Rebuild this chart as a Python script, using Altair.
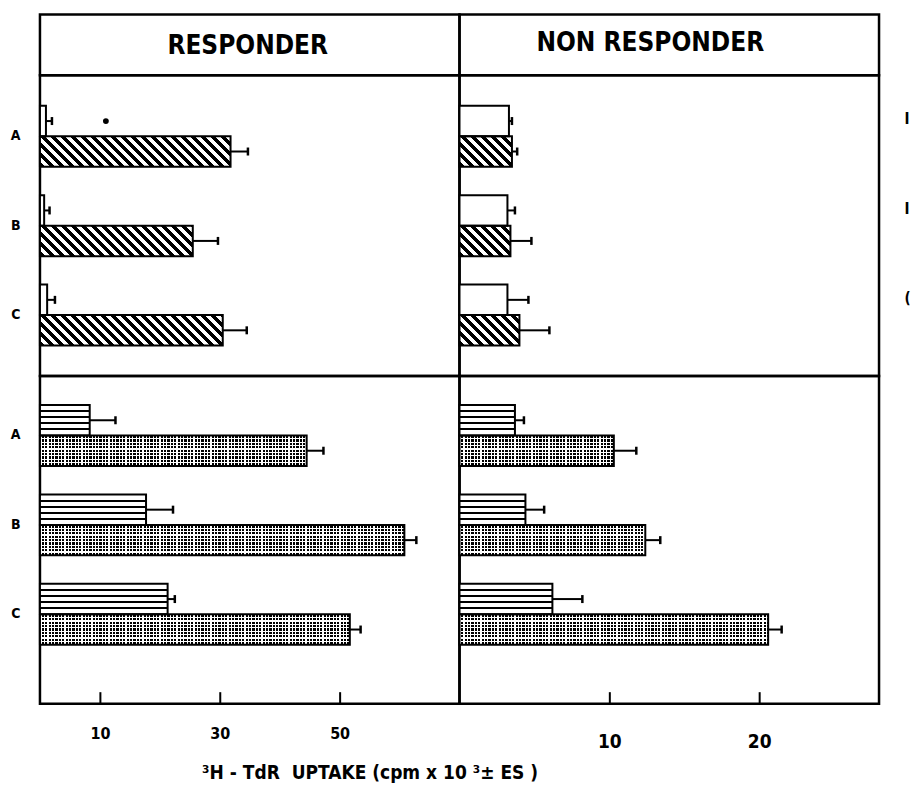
import math
import altair as alt
import pandas as pd

# ---------------- data ----------------
rows = ["A", "B", "C"]
subs = ["upper", "lower"]

# Responder, upper panel: open bars (upper) and hatched bars (lower)
resp_open = [1.0, 0.7, 1.2]
resp_open_err = [1.0, 0.9, 1.3]
resp_hatch = [31.8, 25.5, 30.5]
resp_hatch_err = [2.9, 4.2, 4.0]
# Non responder, upper panel
non_open = [3.3, 3.2, 3.2]
non_open_err = [0.2, 0.5, 1.4]
non_hatch = [3.5, 3.4, 4.0]
non_hatch_err = [0.35, 1.4, 2.0]
# Responder, lower panel: striped (upper) and dotted (lower)
resp_stripe = [8.3, 17.7, 21.3]
resp_stripe_err = [4.3, 4.5, 1.2]
resp_dot = [44.5, 60.8, 51.7]
resp_dot_err = [2.8, 2.0, 1.8]
# Non responder, lower panel
non_stripe = [3.7, 4.4, 6.2]
non_stripe_err = [0.6, 1.25, 2.0]
non_dot = [10.3, 12.4, 20.6]
non_dot_err = [1.5, 1.0, 0.9]

# significance marker (responder, row A)
sig_rows = ["A"]
sig_x = [11.0]

x_max_resp = 70
x_max_non = 28
ticks_resp = [10, 30, 50]
ticks_non = [10, 20]

header_left = "RESPONDER"
header_right = "NON RESPONDER"
x_title = "\u00b3H - TdR\u00a0\u00a0UPTAKE (cpm x 10 \u00b3\u00b1 ES )"

# ---------------- layout / style ----------------
FONT = "Liberation Sans Narrow, DejaVu Sans Condensed, sans-serif"
PW = 420
H_HEAD, H_TOP, H_BOT = 61, 301, 328
STEP, BW = 89.5, 61.0
PI = 1 - BW / STEP
SUB_H = BW / 2


def make_df(up, up_err, lo, lo_err):
    recs = []
    for i, r in enumerate(rows):
        recs.append(dict(row=r, pos="upper", value=up[i], end=up[i] + up_err[i]))
        recs.append(dict(row=r, pos="lower", value=lo[i], end=lo[i] + lo_err[i]))
    return pd.DataFrame(recs)


def stops_from(intervals, on, off):
    st = [{"offset": 0, "color": off}]
    for a, b in intervals:
        a = round(min(max(a, 0.0), 1.0), 5)
        b = round(min(max(b, 0.0), 1.0), 5)
        if b <= a:
            continue
        st += [{"offset": a, "color": off}, {"offset": a, "color": on},
               {"offset": b, "color": on}, {"offset": b, "color": off}]
    st.append({"offset": 1, "color": off})
    return st


def hatch_grad(W, H, period=10.0, frac=0.5):
    S = W + H
    iv = []
    k = math.floor(-H / period) - 1
    while k * period <= W:
        a = k * period
        b = a + frac * period
        iv.append(((a + H) / S, (b + H) / S))
        k += 1
    kk = S / (W * W + H * H)
    return {"gradient": "linear", "x1": 0, "y1": 1,
            "x2": round(W * kk, 6), "y2": round(1 - H * kk, 6),
            "stops": stops_from(iv, "black", "white")}


def stripe_grad(H, n=5, thick=2.0):
    iv = []
    for k in range(1, n):
        c = k * H / n
        iv.append(((c - thick / 2) / H, (c + thick / 2) / H))
    return {"gradient": "linear", "x1": 0, "y1": 0, "x2": 0.000001, "y2": 1,
            "stops": stops_from(iv, "black", "white")}


def dot_rows_grad(H, n=9, thick=2.2):
    p = H / n
    iv = []
    for k in range(n):
        c = (k + 0.5) * p
        iv.append(((c - thick / 2) / H, (c + thick / 2) / H))
    return {"gradient": "linear", "x1": 0, "y1": 0, "x2": 0.000001, "y2": 1,
            "stops": stops_from(iv, "black", "white")}


def dot_cols_grad(W, period=3.4, white=1.2):
    iv = []
    k = 0
    while k * period < W:
        a = k * period + 0.6
        iv.append((a / W, (a + white) / W))
        k += 1
    return {"gradient": "linear", "x1": 0, "y1": 0, "x2": 1, "y2": 0,
            "stops": stops_from(iv, "white", "rgba(255,255,255,0)")}


def panel(df, up_style, lo_style, xmax, height, align, xaxis, yaxis, sig=None):
    xs = alt.Scale(domain=[0, xmax], nice=False, zero=True)
    ys = alt.Scale(domain=rows, paddingInner=PI,
                   paddingOuter=(height / STEP - 3 + PI) / 2, align=align)
    Y = alt.Y("row:N", scale=ys, axis=yaxis)
    YO = alt.YOffset("pos:N", scale=alt.Scale(domain=subs, paddingInner=0, paddingOuter=0))
    px = PW / xmax

    def X(field):
        return alt.X(f"{field}:Q", scale=xs, axis=xaxis)

    base = alt.Chart(df)
    layers = []
    for pos, style in (("upper", up_style), ("lower", lo_style)):
        sel = base.transform_filter(alt.datum.pos == pos)
        if style == "open":
            layers.append(sel.mark_bar(fill="white", strokeWidth=0).encode(x=X("value"), y=Y, yOffset=YO))
        elif style == "stripe":
            layers.append(sel.mark_bar(fill=stripe_grad(SUB_H), strokeWidth=0).encode(x=X("value"), y=Y, yOffset=YO))
        elif style in ("hatch", "dot"):
            if style == "dot":
                layers.append(sel.mark_bar(fill=dot_rows_grad(SUB_H), strokeWidth=0).encode(x=X("value"), y=Y, yOffset=YO))
            for r in rows:
                v = float(df[(df["row"] == r) & (df["pos"] == pos)]["value"].iloc[0])
                W = v * px
                g = hatch_grad(W, SUB_H) if style == "hatch" else dot_cols_grad(W)
                one = base.transform_filter((alt.datum.pos == pos) & (alt.datum.row == r))
                layers.append(one.mark_bar(fill=g, strokeWidth=0).encode(x=X("value"), y=Y, yOffset=YO))
    # outlines
    layers.append(base.mark_bar(fillOpacity=0, stroke="black", strokeWidth=2)
                  .encode(x=X("value"), y=Y, yOffset=YO))
    # error bars
    layers.append(base.mark_rule(color="black", strokeWidth=2)
                  .encode(x=X("value"), x2="end:Q", y=Y, yOffset=YO))
    layers.append(base.mark_tick(orient="vertical", size=8, thickness=2.5, color="black", opacity=1)
                  .encode(x=X("end"), y=Y, yOffset=YO))
    if sig is not None:
        layers.append(alt.Chart(sig).mark_circle(size=34, color="black", opacity=1)
                      .encode(x=X("value"), y=Y, yOffset=YO))
    return alt.layer(*layers).properties(width=PW, height=height)


row_axis = alt.Axis(title=None, ticks=False, domain=False, labelFont=FONT, labelFontSize=14,
                    labelFontWeight="bold", labelPadding=20, labelColor="black", labelAngle=0)
right_axis = alt.Axis(orient="right", title=None, ticks=False, domain=False, labelFont=FONT,
                      labelFontSize=15, labelFontWeight="bold", labelPadding=25, labelOffset=-17,
                      labelColor="black",
                      labelExpr="datum.value == 'C' ? '(' : 'I'")

x_axis_resp = alt.Axis(values=ticks_resp, offset=-12, tickSize=12, tickWidth=2, tickColor="black",
                       domain=False, grid=False, labelFont=FONT, labelFontSize=16,
                       labelFontWeight="bold", labelPadding=22, labelColor="black",
                       labelFlush=False, labelOverlap=False,
                       title=x_title, titleFont=FONT, titleFontSize=19, titleFontWeight="bold",
                       titleColor="black", titleX=330, titleY=87, titleAlign="center",
                       titleBaseline="alphabetic")
x_axis_non = alt.Axis(values=ticks_non, offset=-12, tickSize=12, tickWidth=2, tickColor="black",
                      domain=False, grid=False, labelFont=FONT, labelFontSize=19,
                      labelFontWeight="bold", labelPadding=29, labelColor="black",
                      labelFlush=False, labelOverlap=False, title=None)


def header(text, dx, dy):
    return (alt.Chart(pd.DataFrame({"t": [text]}))
            .mark_text(font=FONT, fontSize=26, fontWeight="bold", color="black",
                       align="center", baseline="middle")
            .encode(text="t:N", x=alt.value(PW / 2 + dx), y=alt.value(H_HEAD / 2 + dy))
            .properties(width=PW, height=H_HEAD))


sig_df = pd.DataFrame({"row": sig_rows, "pos": ["upper"] * len(sig_rows), "value": sig_x})

h1 = header(header_left, -2, 1.5)
h2 = header(header_right, -19, -1.5)
t1 = panel(make_df(resp_open, resp_open_err, resp_hatch, resp_hatch_err), "open", "hatch",
           x_max_resp, H_TOP, 0.5, None, row_axis, sig=sig_df)
t2 = panel(make_df(non_open, non_open_err, non_hatch, non_hatch_err), "open", "hatch",
           x_max_non, H_TOP, 0.5, None, right_axis)
b1 = panel(make_df(resp_stripe, resp_stripe_err, resp_dot, resp_dot_err), "stripe", "dot",
           x_max_resp, H_BOT, 0.33, x_axis_resp, row_axis)
b2 = panel(make_df(non_stripe, non_stripe_err, non_dot, non_dot_err), "stripe", "dot",
           x_max_non, H_BOT, 0.33, x_axis_non, None)

chart = (alt.concat(h1, h2, t1, t2, b1, b2, columns=2, spacing=0, bounds="flush")
         .properties(padding={"left": 9, "top": 12, "right": 0, "bottom": 5}, background="white")
         .configure_view(stroke="black", strokeWidth=2.5))

chart.save("out.html", embed_options={"renderer": "svg", "actions": False})
